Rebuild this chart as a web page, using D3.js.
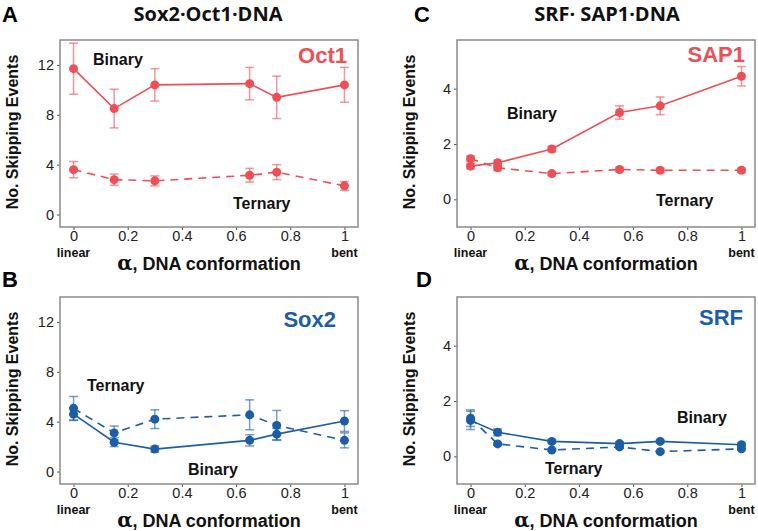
<!DOCTYPE html>
<html><head><meta charset="utf-8">
<script src="https://cdn.jsdelivr.net/npm/d3@7"></script>
<style>body{margin:0;background:#fff}svg{display:block}</style>
</head><body>
<script>
// ---- data ----
const xTickLabels = ["0", "0.2", "0.4", "0.6", "0.8", "1"];
const xTicks = [0, 0.2, 0.4, 0.6, 0.8, 1];
const yTicksSox = [0, 4, 8, 12];
const yTicksSrf = [0, 2, 4];

const alphaSoxOct = [0, 0.15, 0.3, 0.65, 0.75, 1];
const oct1Binary = [11.7, 8.5, 10.4, 10.5, 9.4, 10.4];
const oct1BinaryErr = [2.05, 1.55, 1.3, 1.3, 1.7, 1.4];
const oct1Ternary = [3.6, 2.8, 2.7, 3.15, 3.4, 2.3];
const oct1TernaryErr = [0.65, 0.45, 0.4, 0.55, 0.6, 0.35];
const sox2Binary = [4.6, 2.35, 1.8, 2.5, 3.0, 4.05];
const sox2BinaryErr = [0.5, 0.35, 0.25, 0.45, 0.45, 0.83];
const sox2Ternary = [5.07, 3.1, 4.2, 4.55, 3.7, 2.5];
const sox2TernaryErr = [0.95, 0.55, 0.75, 1.2, 1.2, 0.6];

const alphaSrfSap = [0, 0.1, 0.3, 0.55, 0.7, 1];
const sap1Binary = [1.2, 1.32, 1.82, 3.14, 3.38, 4.45];
const sap1BinaryErr = [0.1, 0.1, 0.1, 0.24, 0.32, 0.35];
const sap1Ternary = [1.47, 1.14, 0.93, 1.08, 1.05, 1.05];
const sap1TernaryErr = [0.1, 0.1, 0.07, 0.07, 0.08, 0.08];
const srfBinary = [1.3, 0.87, 0.54, 0.46, 0.54, 0.42];
const srfBinaryErr = [0.33, 0.12, 0.06, 0.06, 0.05, 0.06];
const srfTernary = [1.38, 0.45, 0.23, 0.34, 0.17, 0.27];
const srfTernaryErr = [0.3, 0.05, 0.04, 0.05, 0.04, 0.05];

const RED = "#EE4F57", BLUE = "#1C5EA6";
const W = 758, H = 531;
const svg = d3.select("body").append("svg").attr("width", W).attr("height", H);

const boldFont = "'Liberation Sans', Arial, sans-serif";
const titleFont = "'Open Sans', 'Noto Sans', sans-serif";

function panel(o) {
  const x = d3.scaleLinear().domain([-0.05, 1.05]).range([o.left, o.left + 298]);
  const y = d3.scaleLinear().domain(o.yDomain).range([o.top + 187, o.top]);
  const g = svg.append("g");
  // axes
  const ax = g.append("g").attr("transform", `translate(0,${o.top + 187})`)
    .call(d3.axisBottom(x).tickValues(xTicks).tickFormat((d, i) => xTickLabels[i]).tickSize(3).tickPadding(1));
  const ay = g.append("g").attr("transform", `translate(${o.left},0)`)
    .call(d3.axisLeft(y).tickValues(o.yTicks).tickFormat(d3.format("d")).tickSize(3).tickPadding(3));
  [ax, ay].forEach(a => {
    a.select(".domain").remove();
    a.selectAll("line").attr("stroke", "#555");
    a.selectAll("text").attr("fill", "#222").style("font-family", "'Liberation Sans', Arial, sans-serif").style("font-size", "14.5px");
  });
  // box
  g.append("rect").attr("x", o.left).attr("y", o.top).attr("width", 298).attr("height", 187)
    .attr("fill", "none").attr("stroke", "#8a8a8a").attr("stroke-width", 1.5);

  const line = d3.line().x(d => x(d[0])).y(d => y(d[1]));
  o.series.forEach(s => {
    const pts = o.xs.map((xv, i) => [xv, s.v[i], s.e[i]]);
    g.append("path").attr("d", line(pts)).attr("fill", "none").attr("stroke", o.color)
      .attr("stroke-width", 1.6).attr("stroke-dasharray", s.dash ? "8,6" : null);
    const eb = g.append("g").attr("stroke", o.color).attr("stroke-opacity", 0.6).attr("stroke-width", 1.5);
    pts.forEach(p => {
      eb.append("line").attr("x1", x(p[0])).attr("x2", x(p[0])).attr("y1", y(p[1] - p[2])).attr("y2", y(p[1] + p[2]));
      [p[1] - p[2], p[1] + p[2]].forEach(v => eb.append("line").attr("x1", x(p[0]) - 4.5).attr("x2", x(p[0]) + 4.5).attr("y1", y(v)).attr("y2", y(v)));
    });
    g.selectAll(null).data(pts).enter().append("circle").attr("cx", d => x(d[0])).attr("cy", d => y(d[1]))
      .attr("r", 4.5).attr("fill", o.color);
  });
  // protein label
  g.append("text").attr("x", o.protX).attr("y", o.protY).attr("text-anchor", "end").attr("fill", o.color)
    .style("font-family", boldFont).style("font-weight", "bold").style("font-size", "22px").text(o.protein);
  o.notes.forEach(n => g.append("text").attr("x", n[1]).attr("y", n[2]).attr("dy", "0.35em").attr("fill", "#111")
    .style("font-family", boldFont).style("font-weight", "bold").style("font-size", "16px").text(n[0]));
  // linear/bent
  const lb = o.top + 187 + 25.5;
  [["linear", 0], ["bent", 1]].forEach(t => g.append("text").attr("x", x(t[1])).attr("y", lb).attr("dy", "0.35em")
    .attr("text-anchor", "middle").attr("fill", "#111").style("font-family", boldFont).style("font-weight", "bold")
    .style("font-size", "12.5px").text(t[0]));
  // x title
  const xt = g.append("text").attr("x", o.left + 149).attr("y", o.top + 187 + 37).attr("dy", "0.35em")
    .attr("text-anchor", "middle").attr("fill", "#111").style("font-family", boldFont).style("font-weight", "bold").style("font-size", "18px");
  xt.append("tspan").style("font-family", "'DejaVu Serif', 'Liberation Serif', serif").style("font-size", "20px").text("α");
  xt.append("tspan").text(", DNA conformation");
  // y title
  g.append("text").attr("transform", `translate(${o.left - 48},${o.top + 92}) rotate(-90)`).attr("dy", "0.35em")
    .attr("text-anchor", "middle").attr("fill", "#111").style("font-family", boldFont).style("font-weight", "bold")
    .style("font-size", "16px").text("No. Skipping Events");
  // panel letter
  g.append("text").attr("x", o.letterX).attr("y", o.letterY).attr("dy", "0.35em").attr("fill", "#000")
    .style("font-family", boldFont).style("font-weight", "bold").style("font-size", "22px").text(o.letter);
  if (o.title) svg.append("text").attr("x", o.titleX).attr("y", 14).attr("dy", "0.35em").attr("text-anchor", "middle")
    .attr("fill", "#111").style("font-family", titleFont).style("font-weight", "bold").style("font-size", "20px").text(o.title);
}

panel({left: 60, top: 40, yDomain: [-1, 14], yTicks: yTicksSox, xs: alphaSoxOct, color: RED,
  series: [{v: oct1Binary, e: oct1BinaryErr, dash: false}, {v: oct1Ternary, e: oct1TernaryErr, dash: true}],
  protein: "Oct1", protX: 347, protY: 63, notes: [["Binary", 93, 59], ["Ternary", 233, 203]],
  letter: "A", letterX: 2, letterY: 14, title: "Sox2·Oct1·DNA", titleX: 208});
panel({left: 60, top: 297, yDomain: [-1, 14], yTicks: yTicksSox, xs: alphaSoxOct, color: BLUE,
  series: [{v: sox2Binary, e: sox2BinaryErr, dash: false}, {v: sox2Ternary, e: sox2TernaryErr, dash: true}],
  protein: "Sox2", protX: 336, protY: 327, notes: [["Ternary", 87, 385], ["Binary", 188, 469]],
  letter: "B", letterX: 2, letterY: 279});
panel({left: 457, top: 40, yDomain: [-1, 5.76], yTicks: yTicksSrf, xs: alphaSrfSap, color: RED,
  series: [{v: sap1Binary, e: sap1BinaryErr, dash: false}, {v: sap1Ternary, e: sap1TernaryErr, dash: true}],
  protein: "SAP1", protX: 745, protY: 62, notes: [["Binary", 507, 113], ["Ternary", 656, 200]],
  letter: "C", letterX: 414, letterY: 14, title: "SRF· SAP1·DNA", titleX: 607});
panel({left: 457, top: 297, yDomain: [-1, 5.76], yTicks: yTicksSrf, xs: alphaSrfSap, color: BLUE,
  series: [{v: srfBinary, e: srfBinaryErr, dash: false}, {v: srfTernary, e: srfTernaryErr, dash: true}],
  protein: "SRF", protX: 743, protY: 325, notes: [["Binary", 677, 417], ["Ternary", 545, 468]],
  letter: "D", letterX: 416, letterY: 279});
</script>
</body></html>
